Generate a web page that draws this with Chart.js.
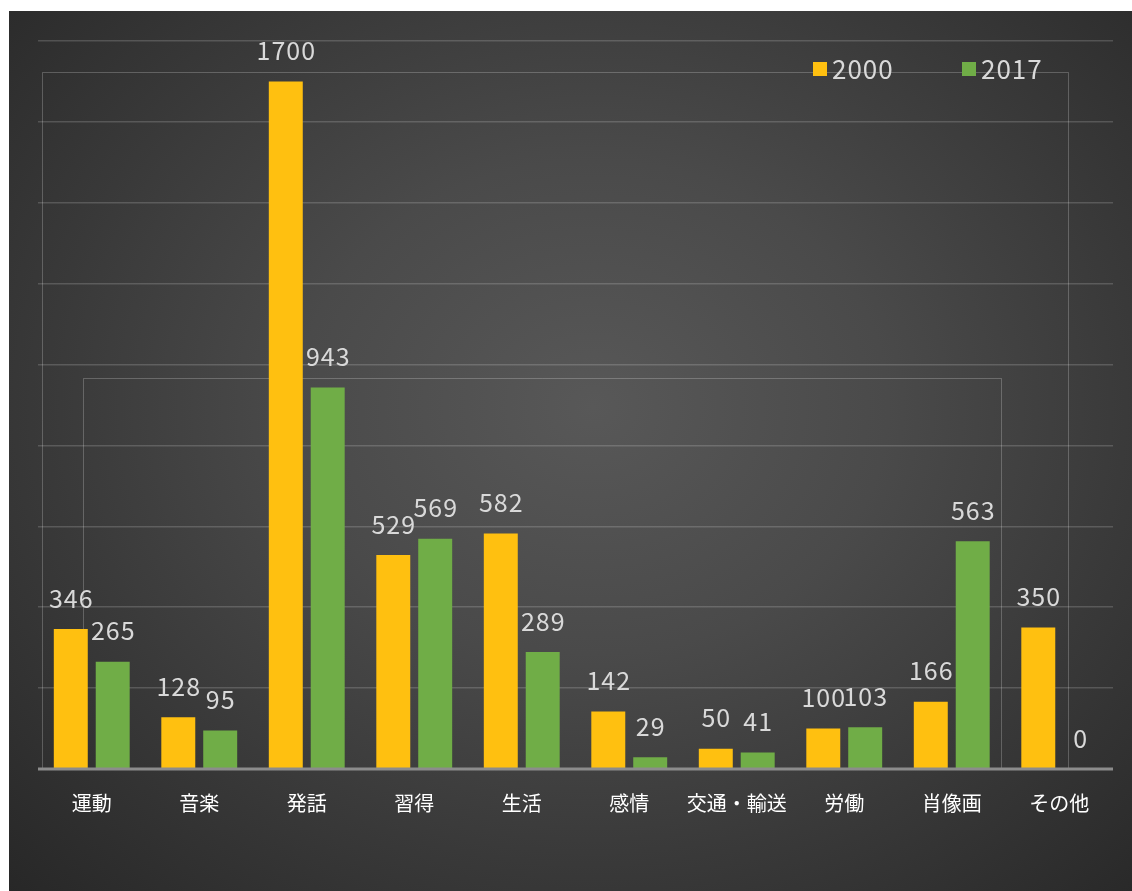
<!DOCTYPE html>
<html><head><meta charset="utf-8">
<script src="https://cdn.jsdelivr.net/npm/chart.js@4.4.0/dist/chart.umd.min.js"></script>
<style>
html,body{margin:0;padding:0;background:#fff;width:1132px;height:891px;overflow:hidden;}
#bg{position:absolute;left:9px;top:11px;width:1123px;height:880px;
background:radial-gradient(ellipse 75% 80% at 52% 45%, #585858 0%, #4a4a4a 35%, #393939 65%, #262626 100%);}
#wrap{position:absolute;left:0;top:0;width:1132px;height:891px;}
</style></head>
<body>
<div id="bg"></div>
<div id="wrap"><canvas id="c" width="1132" height="891"></canvas></div>
<script>
const categories = ['運動','音楽','発話','習得','生活','感情','交通・輸送','労働','肖像画','その他'];
const seriesNames = ['2000','2017'];
const values2000 = [346,128,1700,529,582,142,50,100,166,350];
const values2017 = [265,95,943,569,289,29,41,103,563,0];
const colors = ['#FFC010','#70AD47'];
const yTicks = {min:0, max:1800, step:200};

const FONT = '"Noto Sans CJK JP","Noto Sans",sans-serif';
const TEXT = '#d9d9d9';

const decorPlugin = {
  id:'decor',
  beforeDatasetsDraw(chart){
    const ctx = chart.ctx, a = chart.chartArea;
    ctx.save();
    ctx.strokeStyle = 'rgba(255,255,255,0.22)';
    ctx.lineWidth = 1;
    ctx.beginPath();
    ctx.moveTo(42.5, a.bottom); ctx.lineTo(42.5, 72.5); ctx.lineTo(1068.5, 72.5); ctx.lineTo(1068.5, a.bottom);
    ctx.moveTo(83.5, a.bottom); ctx.lineTo(83.5, 378.5); ctx.lineTo(1001.5, 378.5); ctx.lineTo(1001.5, a.bottom);
    ctx.stroke();
    ctx.restore();
  },
  afterDatasetsDraw(chart){
    const ctx = chart.ctx, a = chart.chartArea;
    ctx.save();
    ctx.strokeStyle = '#8c8c8c';
    ctx.lineWidth = 3;
    ctx.beginPath(); ctx.moveTo(a.left, a.bottom); ctx.lineTo(a.right, a.bottom); ctx.stroke();
    ctx.fillStyle = TEXT;
    ctx.font = '25px ' + FONT;
    try { ctx.letterSpacing = '1px'; } catch(e) {}
    ctx.textAlign = 'center';
    ctx.textBaseline = 'middle';
    chart.data.datasets.forEach((ds, di) => {
      const meta = chart.getDatasetMeta(di);
      meta.data.forEach((el, i) => {
        ctx.fillText(String(ds.data[i]), el.x + 0.5, el.y - 31);
      });
    });
    const lx = [813, 962];
    chart.data.datasets.forEach((ds, di) => {
      ctx.fillStyle = ds.backgroundColor;
      ctx.fillRect(lx[di], 62, 14, 14);
      ctx.fillStyle = TEXT;
      ctx.textAlign = 'left';
      ctx.font = '26px ' + FONT;
      ctx.fillText(ds.label, lx[di] + 19, 69);
    });
    ctx.restore();
  }
};

new Chart(document.getElementById('c'), {
  type:'bar',
  data:{
    labels: categories,
    datasets:[
      {label:seriesNames[0], data:values2000, backgroundColor:colors[0], categoryPercentage:0.78, barPercentage:0.81},
      {label:seriesNames[1], data:values2017, backgroundColor:colors[1], categoryPercentage:0.78, barPercentage:0.81}
    ]
  },
  options:{
    responsive:false,
    animation:false,
    layout:{padding:{left:38, right:19, top:41, bottom:0}},
    plugins:{legend:{display:false}, tooltip:{enabled:false}},
    scales:{
      x:{
        grid:{display:false, drawTicks:false},
        border:{display:false},
        ticks:{color:'#ffffff', font:{family:FONT, size:20}, padding:22, maxRotation:0, autoSkip:false},
        afterFit(s){ s.height = 122; }
      },
      y:{
        min:yTicks.min, max:yTicks.max,
        ticks:{display:false, stepSize:yTicks.step},
        grid:{color:'rgba(255,255,255,0.17)', lineWidth:1.5, drawTicks:false},
        border:{display:false},
        afterFit(s){ s.width = 0; }
      }
    }
  },
  plugins:[decorPlugin]
});
</script>
</body></html>
